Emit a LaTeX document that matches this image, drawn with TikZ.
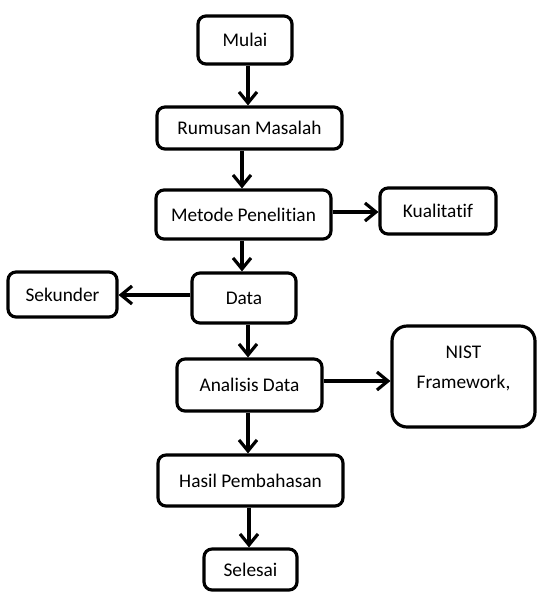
\documentclass[tikz,border=0pt]{standalone}
\usepackage{fontspec}
\setmainfont[Ligatures=NoCommon]{Carlito}
\usetikzlibrary{arrows.meta,positioning}

\begin{document}
\begin{tikzpicture}[x=0.02cm, y=-0.02cm,
	box/.style={draw, line width=1.8pt, rounded corners=0.16cm, align=center, font=\fontsize{11}{13}\selectfont, inner sep=2pt},
	arr/.style={-{Straight Barb[length=2.2mm, width=3.6mm]}, line width=1.8pt}]
	\useasboundingbox (0,0) rectangle (537,592);
	% main column
	\node[box, minimum width=1.88cm, minimum height=0.96cm] (mulai) at (245,40) {Mulai};
	\node[box, minimum width=3.7cm, minimum height=0.84cm] (rumusan) at (249.5,128) {Rumusan Masalah};
	\node[box, minimum width=3.5cm, minimum height=0.98cm] (metode) at (243.5,214.5) {Metode Penelitian};
	\node[box, minimum width=2.08cm, minimum height=1.0cm] (data) at (244,298) {Data};
	\node[box, minimum width=2.9cm, minimum height=1.04cm] (analisis) at (249.5,385) {Analisis Data};
	\node[box, minimum width=3.7cm, minimum height=1.02cm] (hasil) at (250.5,480.5) {Hasil Pembahasan};
	\node[box, minimum width=1.86cm, minimum height=0.82cm] (selesai) at (250.5,569.5) {Selesai};
	% side boxes
	\node[box, rounded corners=0.3cm, minimum width=2.86cm, minimum height=2.02cm, font=\fontsize{11}{17.5}\selectfont] (nist) at (463.5,376.5) {NIST\\Framework,\\[-7pt]~};
	\node[box, minimum width=2.32cm, minimum height=0.92cm] (kualitatif) at (438,211) {Kualitatif};
	\node[box, minimum width=2.18cm, minimum height=0.9cm] (sekunder) at (62.5,294.5) {Sekunder};
	% connectors
	\draw[arr] (mulai.south -| 248,0) -- (248,0 |- rumusan.north);
	\draw[arr] (rumusan.south -| 242,0) -- (242,0 |- metode.north);
	\draw[arr] (metode.south -| 242,0) -- (242,0 |- data.north);
	\draw[arr] (data.south -| 248,0) -- (248,0 |- analisis.north);
	\draw[arr] (analisis.south -| 248,0) -- (248,0 |- hasil.north);
	\draw[arr] (hasil.south -| 249,0) -- (249,0 |- selesai.north);
	\draw[arr] (metode.east |- 0,212) -- (kualitatif.west |- 0,212);
	\draw[arr] (data.west |- 0,295) -- (sekunder.east |- 0,295);
	\draw[arr] (analisis.east |- 0,381) -- (nist.west |- 0,381);
\end{tikzpicture}
\end{document}
